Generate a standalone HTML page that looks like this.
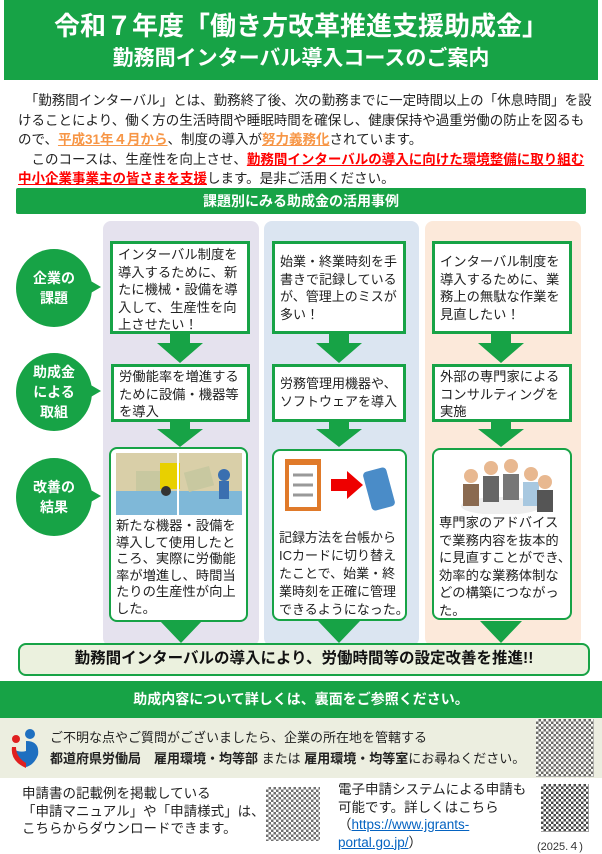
<!DOCTYPE html>
<html><head><meta charset="utf-8"><style>
*{margin:0;padding:0;box-sizing:border-box}
body{width:602px;height:853px;position:relative;background:#fff;font-family:"Liberation Sans","Noto Sans CJK JP",sans-serif;color:#222;overflow:hidden}
.a{position:absolute}
.g{background:#17a346}
.t{color:#fff;font-weight:bold;text-align:center}
.p{font-size:13.5px;line-height:19.5px;white-space:nowrap}
.o{color:#f79646;font-weight:bold;text-decoration:underline}
.r{color:#ff0000;font-weight:bold;text-decoration:underline}
.col{position:absolute;top:221px;height:425px;border-radius:8px}
.box{position:absolute;border:3px solid #17a346;background:#fff;font-size:13.3px;line-height:17.5px;padding:2px 5px;white-space:nowrap;overflow:hidden}
.rb{border-radius:8px;border-width:2.5px;line-height:16.5px}
.circ{position:absolute;width:76px;height:78px;border-radius:50%;background:#17a346;color:#fff;font-weight:bold;font-size:14px;line-height:20px;text-align:center;display:flex;align-items:center;justify-content:center}
.circ:after{content:"";position:absolute;right:-9px;top:31px;border-left:12px solid #17a346;border-top:7px solid transparent;border-bottom:7px solid transparent}
.qr{position:absolute;background:repeating-conic-gradient(#333 0 25%,#fff 0 50%) 0 0/5px 5px;opacity:.7}
</style></head><body>
<div class="a g" style="left:4px;top:0;width:594px;height:80px"></div>
<div class="a t" style="left:0;top:10px;width:602px;font-size:26px;line-height:32px">令和７年度「働き方改革推進支援助成金」</div>
<div class="a t" style="left:0;top:45px;width:602px;font-size:21px;line-height:28px">勤務間インターバル導入コースのご案内</div>

<div class="a p" style="left:18px;top:91px;width:578px">　「勤務間インターバル」とは、勤務終了後、次の勤務までに一定時間以上の「休息時間」を設<br>けることにより、働く方の生活時間や睡眠時間を確保し、健康保持や過重労働の防止を図るも<br>ので、<span class="o">平成31年４月から</span>、制度の導入が<span class="o">努力義務化</span>されています。<br>　このコースは、生産性を向上させ、<span class="r">勤務間インターバルの導入に向けた環境整備に取り組む</span><br><span class="r">中小企業事業主の皆さまを支援</span>します。是非ご活用ください。</div>

<div class="a g t" style="left:16px;top:188px;width:570px;height:26px;font-size:14px;line-height:26px;border-radius:2px">課題別にみる助成金の活用事例</div>

<div class="col" style="left:103px;width:156px;background:#e5e2ee"></div>
<div class="col" style="left:264px;width:155px;background:#dbe5f1"></div>
<div class="col" style="left:425px;width:156px;background:#fce9da"></div>

<div class="circ" style="left:16px;top:249px">企業の<br>課題</div>
<div class="circ" style="left:16px;top:353px">助成金<br>による<br>取組</div>
<div class="circ" style="left:16px;top:458px">改善の<br>結果</div>

<div class="box" style="left:110px;top:241px;width:140px;height:93px">インターバル制度を<br>導入するために、新<br>たに機械・設備を導<br>入して、生産性を向<br>上させたい！</div>
<div class="box" style="left:272px;top:241px;width:134px;height:93px;padding-top:9px;font-size:13px">始業・終業時刻を手<br>書きで記録している<br>が、管理上のミスが<br>多い！</div>
<div class="box" style="left:432px;top:241px;width:140px;height:93px;padding-top:9px">インターバル制度を<br>導入するために、業<br>務上の無駄な作業を<br>見直したい！</div>

<div class="box" style="left:111px;top:364px;width:139px;height:58px;padding-top:1px">労働能率を増進する<br>ために設備・機器等<br>を導入</div>
<div class="box" style="left:272px;top:364px;width:134px;height:58px;padding-top:8px;font-size:13px">労務管理用機器や、<br>ソフトウェアを導入</div>
<div class="box" style="left:432px;top:364px;width:140px;height:58px;padding-top:1px">外部の専門家による<br>コンサルティングを<br>実施</div>

<div class="box rb" style="left:109px;top:447px;width:139px;height:175px;padding:4px 5px">
<svg width="126" height="62" style="display:block;margin-bottom:3px"><rect width="126" height="62" fill="#d9cfa8"/><rect x="0" y="38" width="126" height="24" fill="#7fb8d8"/><rect x="20" y="18" width="26" height="20" fill="#c8c8a0"/><rect x="44" y="10" width="20" height="26" fill="#e8d000"/><circle cx="50" cy="38" r="5" fill="#333"/><rect x="70" y="16" width="26" height="20" fill="#c8c8a0" transform="rotate(-15 83 26)"/><circle cx="108" cy="22" r="6" fill="#3a6fb0"/><rect x="103" y="28" width="10" height="18" fill="#3a6fb0"/><line x1="62" y1="0" x2="62" y2="62" stroke="#fff" stroke-width="2"/></svg>
<div>新たな機器・設備を<br>導入して使用したと<br>ころ、実際に労働能<br>率が増進し、時間当<br>たりの生産性が向上<br>した。</div></div>
<div class="box rb" style="left:272px;top:449px;width:135px;height:172px;padding:4px 5px;font-size:13px;line-height:18px">
<svg width="120" height="62" style="display:block;margin-bottom:12px"><rect x="6" y="4" width="36" height="52" fill="#e07a2a"/><rect x="10" y="10" width="28" height="42" fill="#fff"/><line x1="14" y1="20" x2="34" y2="20" stroke="#999" stroke-width="3"/><line x1="14" y1="30" x2="34" y2="30" stroke="#999" stroke-width="3"/><line x1="14" y1="40" x2="34" y2="40" stroke="#999" stroke-width="3"/><polygon points="52,24 68,24 68,16 84,30 68,44 68,36 52,36" fill="#e00"/><rect x="88" y="14" width="24" height="40" rx="4" fill="#4a8cc8" transform="rotate(-15 100 34)"/></svg>
<div>記録方法を台帳から<br>ICカードに切り替え<br>たことで、始業・終<br>業時刻を正確に管理<br>できるようになった。</div></div>
<div class="box rb" style="left:432px;top:448px;width:140px;height:172px;padding:4px 5px;line-height:17.5px">
<svg width="124" height="60" style="display:block;margin-bottom:0"><ellipse cx="62" cy="52" rx="40" ry="9" fill="#eee"/><circle cx="32" cy="22" r="7" fill="#e8b890"/><rect x="24" y="30" width="16" height="22" fill="#8a6a50"/><circle cx="52" cy="14" r="7" fill="#e8b890"/><rect x="44" y="22" width="16" height="26" fill="#666"/><circle cx="72" cy="12" r="7" fill="#e8b890"/><rect x="64" y="20" width="16" height="26" fill="#777"/><circle cx="92" cy="20" r="7" fill="#e8b890"/><rect x="84" y="28" width="16" height="24" fill="#a8c8e0"/><circle cx="106" cy="28" r="7" fill="#e8b890"/><rect x="98" y="36" width="16" height="22" fill="#555"/></svg>
<div>専門家のアドバイス<br>で業務内容を抜本的<br>に見直すことができ、<br>効率的な業務体制な<br>どの構築につながっ<br>た。</div></div>

<svg class="a" style="left:0;top:0" width="602" height="680">
<g fill="#17a346">
<polygon points="170,333 190,333 190,343 203,343 180,363 157,343 170,343"/>
<polygon points="329,333 349,333 349,343 362,343 339,363 316,343 329,343"/>
<polygon points="491,333 511,333 511,343 524,343 501,363 478,343 491,343"/>
<polygon points="170,421 190,421 190,429 203,429 180,447 157,429 170,429"/>
<polygon points="329,421 349,421 349,429 362,429 339,447 316,429 329,429"/>
<polygon points="491,421 511,421 511,429 524,429 501,447 478,429 491,429"/>
<polygon points="160,621 202,621 181,643"/>
<polygon points="318,621 360,621 339,643"/>
<polygon points="480,621 522,621 501,643"/>
</g></svg>

<div class="a" style="left:18px;top:643px;width:572px;height:33px;background:#ebf1de;border:2.5px solid #17a346;border-radius:8px;font-weight:bold;font-size:15.5px;line-height:28px;text-align:center;color:#111">勤務間インターバルの導入により、労働時間等の設定改善を推進!!</div>

<div class="a g t" style="left:0;top:681px;width:602px;height:37px;font-size:14px;line-height:36px">助成内容について詳しくは、裏面をご参照ください。</div>
<div class="a" style="left:0;top:718px;width:602px;height:60px;background:#eceee0"></div>
<svg class="a" style="left:10px;top:727px" width="32" height="42"><circle cx="20" cy="7" r="5" fill="#1e6fc0"/><circle cx="6" cy="12" r="4" fill="#e02020"/><path d="M16 14 Q30 14 28 28 Q24 38 16 40 Q4 34 3 22 Q10 26 16 24 Z" fill="#1e6fc0"/><path d="M2 20 Q0 34 16 41 L16 36 Q6 30 6 20 Z" fill="#e02020"/></svg>
<div class="a" style="left:50px;top:727px;font-size:13px;line-height:21px;white-space:nowrap">ご不明な点やご質問がございましたら、企業の所在地を管轄する<br><b>都道府県労働局　雇用環境・均等部</b> または <b>雇用環境・均等室</b>にお尋ねください。</div>
<div class="qr" style="left:536px;top:719px;width:58px;height:58px"></div>

<div class="a" style="left:22px;top:785px;font-size:13.5px;line-height:17.5px;white-space:nowrap">申請書の記載例を掲載している<br>「申請マニュアル」や「申請様式」は、<br>こちらからダウンロードできます。</div>
<div class="qr" style="left:266px;top:787px;width:54px;height:54px"></div>
<div class="a" style="left:338px;top:781px;font-size:13.5px;line-height:17.5px;white-space:nowrap">電子申請システムによる申請も<br>可能です。詳しくはこちら<br>（<span style="color:#0563c1;text-decoration:underline">https://www.jgrants-</span><br><span style="color:#0563c1;text-decoration:underline">portal.go.jp/</span>）</div>
<div class="qr" style="left:541px;top:784px;width:48px;height:48px;opacity:.9"></div>
<div class="a" style="left:537px;top:838px;font-size:11px;color:#333">(2025.４)</div>
</body></html>
